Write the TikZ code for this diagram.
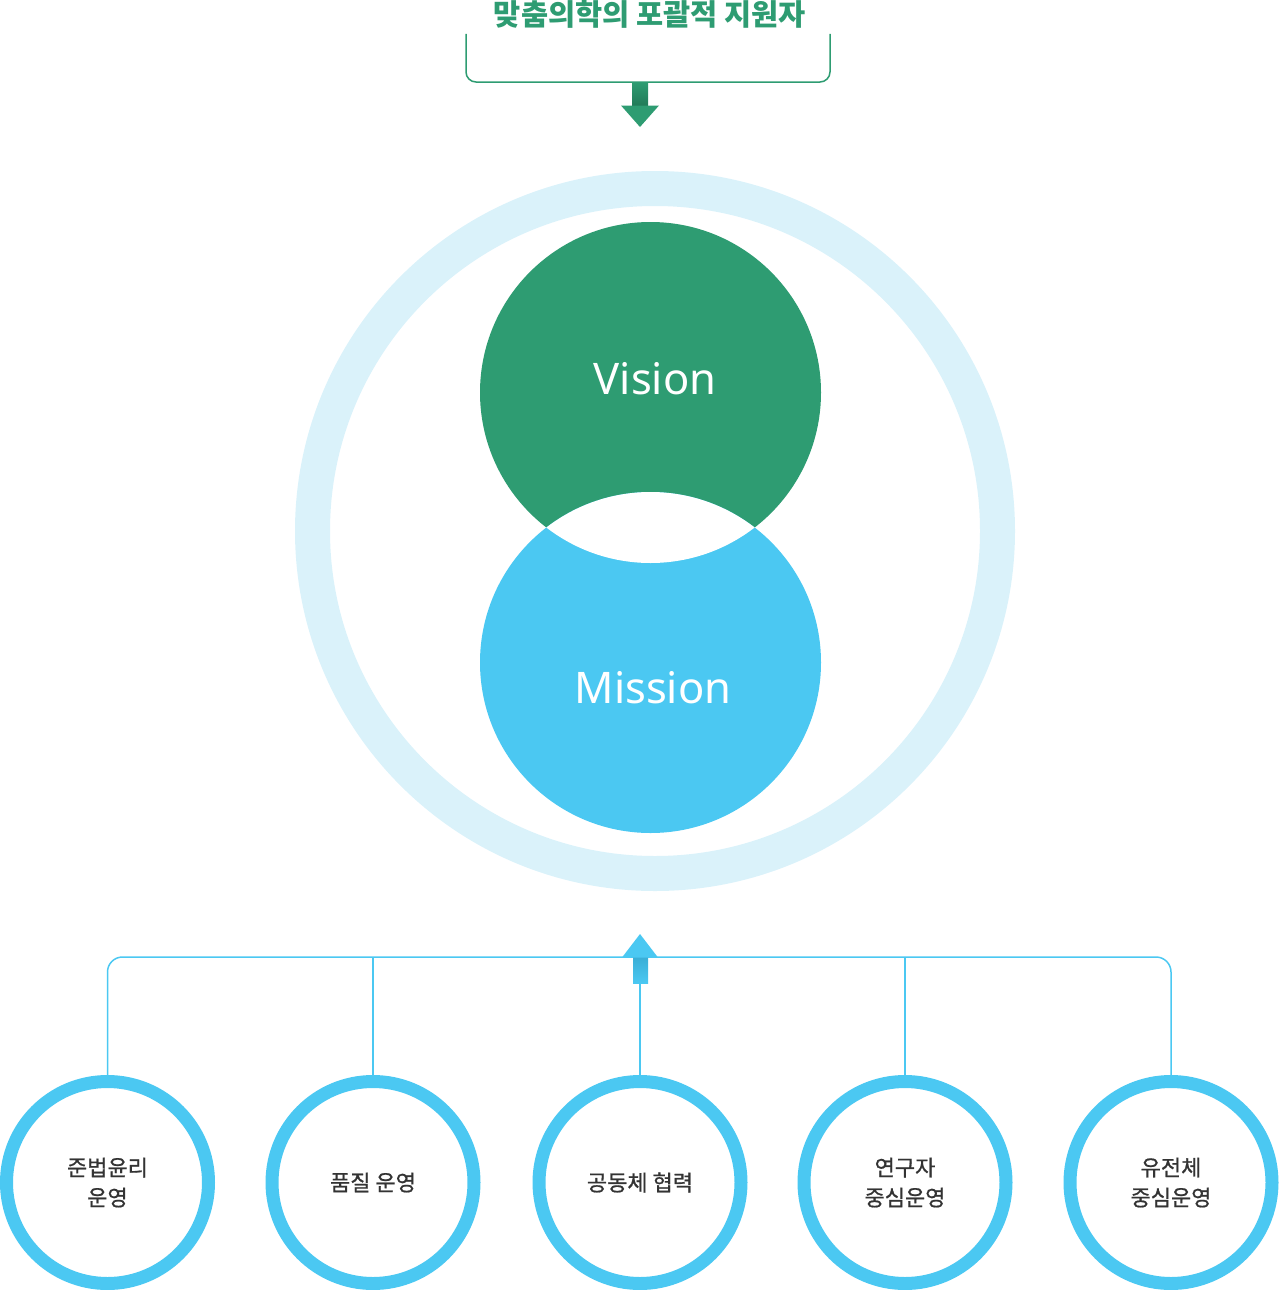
\documentclass[tikz,border=0pt]{standalone}
\usepackage{fontspec}
\setmainfont{Noto Sans}
\newfontfamily\kr{Noto Sans CJK KR}
\newfontfamily\krm[FakeBold=0.8]{Noto Sans CJK KR}
\usetikzlibrary{backgrounds}
\definecolor{vgreen}{HTML}{2E9C72}
\definecolor{dgreen}{HTML}{227A58}
\definecolor{mblue}{HTML}{4BC8F2}
\definecolor{dblue}{HTML}{3AAED6}
\definecolor{ringblue}{HTML}{DAF2FA}
\definecolor{txtgray}{HTML}{333333}
\tikzset{
  bigtext/.style={text=white,font=\fontsize{43.5}{48}\selectfont,anchor=base,inner sep=0pt},
  smallcirc/.style={circle,draw=mblue,line width=13pt,fill=white,minimum size=202pt,inner sep=0pt,
    text=txtgray,align=center,font=\krm\fontsize{22}{30}\selectfont},
  conn/.style={draw=mblue,line width=1.5pt},
  brk/.style={draw=vgreen,line width=1.5pt,rounded corners=10pt},
}
\begin{document}
\begin{tikzpicture}[x=1pt,y=-1pt]
\useasboundingbox (0,0) rectangle (1278,1290);
% title
\node[anchor=base,inner sep=0pt,text=vgreen,font=\kr\bfseries\fontsize{29.5}{32}\selectfont] (title) at (650,26) {맞춤의학의 포괄적 지원자};
\coordinate (bl) at (466,34);
\coordinate (br) at (830,34);
\draw[brk] (bl) -- (466,82) -- (830,82) -- (br);
% down arrow
\shade[top color=vgreen,bottom color=dgreen] (632,82) rectangle (648,106);
\fill[vgreen] (621,105.5) -- (659,105.5) -- (640,127) -- cycle;
% big ring
\node[circle,draw=ringblue,line width=35pt,minimum size=685pt,inner sep=0pt] (ring) at (655,531) {};
% vision & mission circles
\node[circle,fill=vgreen,minimum size=341pt,inner sep=0pt] (vis) at (650.5,392.5) {};
\node[circle,fill=mblue,minimum size=341pt,inner sep=0pt] (mis) at (650.5,662.5) {};
\begin{scope}
  \clip (650.5,392.5) circle (170.5pt);
  \fill[white] (650.5,662.5) circle (170.5pt);
\end{scope}
\node[bigtext] (vt) at (655,394) {Vision};
\node[bigtext] (mt) at (653,703) {Mission};
% small circles
\node[smallcirc] (c1) at (107.5,1182.5) {준법윤리\\운영};
\node[smallcirc] (c2) at (373,1182.5) {품질 운영};
\node[smallcirc] (c3) at (640,1182.5) {공동체 협력};
\node[smallcirc] (c4) at (905,1182.5) {연구자\\중심운영};
\node[smallcirc] (c5) at (1171,1182.5) {유전체\\중심운영};
\coordinate (hub) at (640,957);
\begin{scope}[on background layer]
  \draw[conn,rounded corners=15pt] (c1.north) |- (hub) -| (c5.north);
  \draw[conn] (c2.north) -- (c2.north |- hub);
  \draw[conn] (c3.north) -- (hub);
  \draw[conn] (c4.north) -- (c4.north |- hub);
\end{scope}
% up arrow
\shade[top color=dblue,bottom color=mblue] (633,957) rectangle (648,983);
\fill[mblue] (622,957.5) -- (658,957.5) -- (640,934) -- cycle;
\end{tikzpicture}
\end{document}
